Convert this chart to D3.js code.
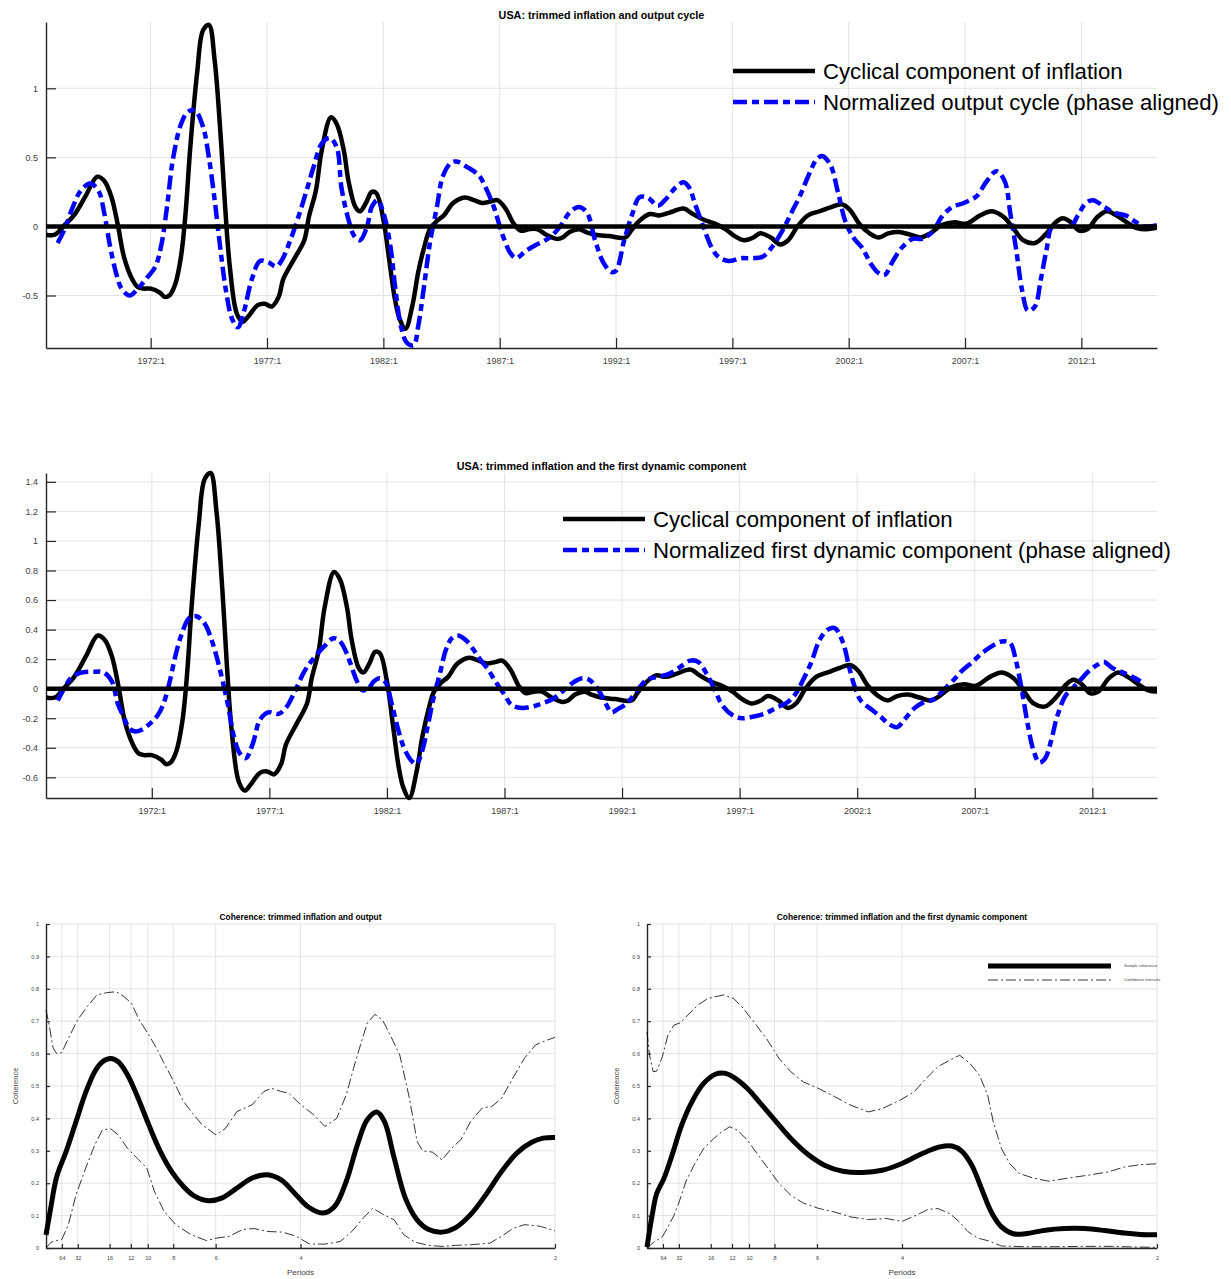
<!DOCTYPE html>
<html>
<head>
<meta charset="utf-8">
<script src="https://cdn.jsdelivr.net/npm/d3@7"></script>
<style>
body { margin: 0; background: #fff; }
svg { display: block; font-family: "Liberation Sans", Arial, sans-serif; }
</style>
</head>
<body>
<svg id="fig" width="1231" height="1279"></svg>
<script>
// ---- data ----
const yearTicks = [1972, 1977, 1982, 1987, 1992, 1997, 2002, 2007, 2012];
const yTicksTop = [-0.5, 0, 0.5, 1];
const yTicksMid = [-0.6, -0.4, -0.2, 0, 0.2, 0.4, 0.6, 0.8, 1, 1.2, 1.4];
const periodTicks = [64, 32, 16, 12, 10, 8, 6, 4, 2];
const cohTicks = [0, 0.1, 0.2, 0.3, 0.4, 0.5, 0.6, 0.7, 0.8, 0.9, 1];

// cyclical component of inflation (same in both time panels)
const inflYears = [1967.5,1967.87,1968.3,1968.7,1969.2,1969.7,1970.0,1970.3,1970.6,1970.85,1971.2,1971.45,1971.7,1972.0,1972.4,1972.6,1972.8,1973.05,1973.3,1973.5,1973.7,1974.0,1974.25,1974.5,1974.75,1975.0,1975.2,1975.4,1975.7,1975.95,1976.2,1976.6,1976.9,1977.2,1977.5,1977.7,1978.15,1978.6,1978.8,1979.1,1979.35,1979.75,1980.0,1980.3,1980.5,1980.8,1981.0,1981.25,1981.5,1981.7,1982.0,1982.25,1982.5,1982.7,1982.95,1983.25,1983.5,1983.77,1984.0,1984.3,1984.6,1985.0,1985.5,1985.9,1986.25,1986.6,1986.9,1987.25,1987.6,1987.9,1988.25,1988.6,1989.0,1989.45,1989.7,1990.0,1990.4,1990.7,1991.1,1991.7,1992.4,1992.65,1993.0,1993.45,1993.85,1994.3,1994.9,1995.3,1995.75,1996.25,1996.7,1997.1,1997.5,1997.9,1998.2,1998.65,1999.05,1999.4,1999.8,2000.25,2000.75,2001.25,2001.7,2002.05,2002.45,2002.9,2003.3,2003.7,2004.15,2004.65,2005.1,2005.5,2006.0,2006.55,2007.05,2007.65,2008.15,2008.65,2009.1,2009.5,2010.0,2010.45,2010.9,2011.2,2011.55,2011.9,2012.25,2012.7,2013.1,2013.5,2013.95,2014.35,2014.8,2015.25];
const inflVals = [-0.06,-0.06,0.01,0.08,0.22,0.36,0.33,0.22,0.0,-0.22,-0.38,-0.44,-0.45,-0.45,-0.48,-0.51,-0.50,-0.42,-0.22,0.10,0.57,1.12,1.42,1.46,1.20,0.67,0.14,-0.29,-0.63,-0.69,-0.65,-0.57,-0.56,-0.58,-0.51,-0.38,-0.24,-0.10,0.07,0.26,0.55,0.79,0.74,0.55,0.33,0.14,0.11,0.17,0.25,0.24,0.05,-0.24,-0.53,-0.67,-0.74,-0.57,-0.33,-0.14,-0.02,0.04,0.08,0.17,0.21,0.19,0.17,0.18,0.19,0.13,0.02,-0.03,-0.02,-0.02,-0.06,-0.09,-0.08,-0.04,-0.02,-0.04,-0.06,-0.07,-0.08,-0.03,0.04,0.09,0.08,0.10,0.13,0.09,0.05,0.02,-0.02,-0.07,-0.10,-0.08,-0.05,-0.08,-0.13,-0.10,0.00,0.08,0.11,0.14,0.16,0.12,0.02,-0.05,-0.08,-0.05,-0.04,-0.06,-0.08,-0.05,0.01,0.03,0.02,0.08,0.11,0.07,-0.02,-0.10,-0.12,-0.06,0.03,0.06,0.03,-0.03,-0.02,0.07,0.11,0.08,0.03,-0.01,-0.02,-0.01];

// normalized output cycle (phase aligned)
const outYears = [1968.0,1968.3,1968.65,1969.0,1969.4,1969.75,1970.0,1970.25,1970.5,1970.75,1971.1,1971.45,1971.8,1972.2,1972.45,1972.7,1972.95,1973.3,1973.6,1973.9,1974.25,1974.5,1974.75,1975.0,1975.25,1975.5,1975.75,1976.0,1976.35,1976.7,1977.05,1977.4,1977.65,1978.0,1978.35,1978.7,1979.0,1979.35,1979.7,1980.0,1980.2,1980.5,1980.75,1981.0,1981.3,1981.5,1981.75,1982.0,1982.3,1982.5,1982.75,1983.0,1983.3,1983.5,1983.75,1984.0,1984.3,1984.55,1984.9,1985.15,1985.6,1986.1,1986.4,1986.75,1987.1,1987.45,1987.7,1988.1,1988.6,1989.15,1989.6,1990.0,1990.4,1990.75,1991.1,1991.45,1991.8,1992.0,1992.35,1992.7,1993.0,1993.35,1993.8,1994.1,1994.55,1994.9,1995.15,1995.4,1995.75,1996.1,1996.4,1996.85,1997.35,1997.85,1998.3,1998.7,1999.15,1999.6,1999.9,2000.25,2000.6,2000.85,2001.2,2001.55,2001.85,2002.2,2002.6,2002.95,2003.3,2003.55,2003.9,2004.3,2004.75,2005.15,2005.6,2006.0,2006.45,2006.95,2007.5,2007.9,2008.35,2008.7,2008.95,2009.2,2009.45,2009.7,2010.0,2010.25,2010.5,2010.75,2011.1,2011.55,2011.85,2012.2,2012.5,2013.0,2013.4,2013.9,2014.35,2014.7,2015.25];
const outVals = [-0.12,-0.02,0.14,0.26,0.31,0.26,0.10,-0.14,-0.33,-0.45,-0.50,-0.45,-0.38,-0.29,-0.14,0.14,0.48,0.74,0.83,0.84,0.72,0.50,0.19,-0.17,-0.48,-0.67,-0.73,-0.62,-0.38,-0.25,-0.26,-0.29,-0.24,-0.10,0.07,0.26,0.43,0.60,0.64,0.57,0.28,0.05,-0.07,-0.10,0.0,0.14,0.19,0.10,-0.14,-0.43,-0.72,-0.84,-0.86,-0.72,-0.43,-0.12,0.14,0.36,0.46,0.47,0.43,0.37,0.28,0.14,-0.05,-0.19,-0.23,-0.18,-0.13,-0.08,0.0,0.10,0.14,0.10,-0.10,-0.26,-0.33,-0.32,-0.10,0.09,0.21,0.21,0.15,0.19,0.28,0.32,0.28,0.16,0.0,-0.15,-0.22,-0.25,-0.23,-0.23,-0.22,-0.15,-0.03,0.12,0.22,0.36,0.48,0.51,0.45,0.24,0.04,-0.08,-0.16,-0.27,-0.34,-0.35,-0.25,-0.15,-0.09,-0.09,-0.04,0.07,0.14,0.17,0.22,0.32,0.40,0.33,0.09,-0.17,-0.46,-0.61,-0.58,-0.39,-0.17,0.0,0.0,0.0,0.08,0.17,0.19,0.14,0.10,0.08,0.03,0.0,0.01];

// normalized first dynamic component (phase aligned)
const dynYears = [1968.0,1968.3,1968.6,1969.05,1969.55,1969.95,1970.3,1970.55,1970.8,1971.05,1971.3,1971.55,1971.9,1972.25,1972.5,1972.75,1973.0,1973.25,1973.6,1973.9,1974.25,1974.5,1974.75,1975.0,1975.25,1975.5,1975.75,1976.0,1976.3,1976.6,1976.95,1977.4,1977.7,1978.05,1978.5,1978.9,1979.35,1979.7,1979.95,1980.2,1980.45,1980.7,1980.95,1981.2,1981.45,1981.7,1981.95,1982.2,1982.45,1982.7,1983.0,1983.25,1983.5,1983.75,1984.0,1984.25,1984.5,1984.75,1985.0,1985.35,1985.7,1986.0,1986.3,1986.65,1987.0,1987.3,1987.75,1988.2,1988.6,1989.05,1989.45,1989.9,1990.3,1990.6,1991.0,1991.3,1991.55,1991.8,1992.2,1992.65,1993.05,1993.5,1994.0,1994.5,1994.9,1995.25,1995.6,1995.95,1996.25,1996.7,1997.1,1997.55,1998.05,1998.55,1999.05,1999.4,1999.7,2000.05,2000.4,2000.75,2001.05,2001.4,2001.65,2001.9,2002.15,2002.6,2003.0,2003.35,2003.7,2004.0,2004.45,2004.85,2005.3,2005.6,2006.05,2006.45,2006.9,2007.3,2007.75,2008.15,2008.5,2008.75,2009.0,2009.25,2009.5,2009.75,2010.0,2010.25,2010.5,2010.85,2011.2,2011.5,2011.85,2012.2,2012.5,2012.85,2013.3,2013.7,2014.05];
const dynVals = [-0.08,0.01,0.08,0.11,0.115,0.11,0.05,-0.10,-0.19,-0.27,-0.29,-0.28,-0.24,-0.18,-0.10,0.04,0.22,0.36,0.48,0.49,0.44,0.35,0.22,0.06,-0.12,-0.33,-0.44,-0.47,-0.37,-0.21,-0.16,-0.17,-0.13,-0.03,0.12,0.21,0.29,0.34,0.33,0.27,0.17,0.06,-0.01,0.00,0.05,0.07,0.04,-0.10,-0.26,-0.39,-0.48,-0.51,-0.42,-0.24,-0.05,0.10,0.26,0.34,0.36,0.33,0.26,0.19,0.13,0.04,-0.04,-0.11,-0.13,-0.12,-0.10,-0.07,-0.02,0.04,0.07,0.06,-0.01,-0.10,-0.16,-0.14,-0.10,-0.01,0.06,0.08,0.10,0.15,0.19,0.18,0.10,-0.01,-0.11,-0.18,-0.20,-0.19,-0.17,-0.13,-0.09,-0.03,0.06,0.18,0.33,0.40,0.41,0.31,0.15,0.01,-0.08,-0.14,-0.19,-0.24,-0.26,-0.21,-0.13,-0.09,-0.07,-0.02,0.05,0.12,0.18,0.24,0.29,0.32,0.31,0.19,-0.01,-0.24,-0.42,-0.50,-0.47,-0.35,-0.19,-0.05,0.01,0.06,0.12,0.16,0.18,0.14,0.11,0.08,0.05];

// coherence, x = frequency / pi (period p sits at 2/p)
const cohOutU = [0,0.01,0.021,0.04,0.059,0.078,0.096,0.111,0.127,0.142,0.16,0.179,0.202,0.224,0.247,0.27,0.292,0.319,0.345,0.375,0.405,0.435,0.462,0.488,0.514,0.544,0.567,0.59,0.612,0.631,0.65,0.665,0.684,0.706,0.729,0.752,0.778,0.804,0.834,0.864,0.895,0.925,0.955,0.977,1];
const cohOutV = [0.04,0.13,0.22,0.30,0.39,0.48,0.545,0.575,0.585,0.575,0.535,0.47,0.38,0.30,0.236,0.19,0.16,0.146,0.154,0.185,0.216,0.226,0.21,0.17,0.128,0.108,0.128,0.206,0.32,0.396,0.42,0.39,0.278,0.154,0.087,0.057,0.049,0.062,0.103,0.164,0.236,0.293,0.327,0.339,0.341];
const cohOutHiU = [0,0.006,0.014,0.021,0.031,0.044,0.062,0.081,0.1,0.119,0.138,0.153,0.168,0.183,0.202,0.217,0.232,0.251,0.27,0.288,0.307,0.334,0.352,0.375,0.405,0.428,0.443,0.462,0.477,0.499,0.526,0.548,0.571,0.59,0.608,0.631,0.646,0.661,0.676,0.695,0.714,0.729,0.74,0.759,0.778,0.797,0.815,0.834,0.857,0.876,0.895,0.917,0.94,0.962,0.985,1];
const cohOutHiV = [0.735,0.69,0.617,0.60,0.603,0.647,0.704,0.745,0.781,0.788,0.791,0.776,0.755,0.704,0.658,0.617,0.57,0.514,0.452,0.416,0.38,0.349,0.368,0.421,0.442,0.483,0.493,0.483,0.478,0.444,0.411,0.375,0.40,0.473,0.576,0.694,0.721,0.704,0.658,0.596,0.462,0.329,0.30,0.296,0.272,0.308,0.334,0.39,0.432,0.437,0.462,0.524,0.586,0.627,0.642,0.65];
const cohOutLoU = [0,0.01,0.021,0.031,0.044,0.059,0.078,0.096,0.111,0.127,0.142,0.16,0.179,0.198,0.213,0.232,0.255,0.285,0.315,0.337,0.36,0.386,0.409,0.435,0.465,0.492,0.518,0.548,0.578,0.601,0.623,0.642,0.661,0.684,0.703,0.725,0.752,0.778,0.804,0.834,0.872,0.895,0.917,0.94,0.971,1];
const cohOutLoV = [0,0.018,0.023,0.026,0.072,0.164,0.247,0.319,0.365,0.368,0.349,0.308,0.277,0.247,0.175,0.113,0.072,0.041,0.023,0.031,0.036,0.057,0.06,0.051,0.049,0.036,0.012,0.012,0.02,0.051,0.092,0.123,0.105,0.087,0.041,0.018,0.008,0.005,0.008,0.01,0.015,0.036,0.06,0.072,0.067,0.053];

const cohDynU = [0,0.01,0.019,0.033,0.049,0.068,0.088,0.111,0.135,0.154,0.174,0.197,0.22,0.251,0.282,0.314,0.349,0.384,0.423,0.461,0.5,0.539,0.574,0.598,0.617,0.637,0.656,0.675,0.695,0.718,0.742,0.781,0.819,0.858,0.897,0.936,0.967,1];
const cohDynV = [0.003,0.10,0.168,0.214,0.286,0.379,0.451,0.508,0.537,0.539,0.523,0.492,0.451,0.394,0.338,0.291,0.255,0.237,0.233,0.24,0.261,0.291,0.312,0.315,0.299,0.255,0.183,0.111,0.065,0.044,0.044,0.055,0.06,0.06,0.054,0.046,0.042,0.041];
const cohDynHiU = [0,0.005,0.012,0.019,0.03,0.041,0.053,0.065,0.08,0.1,0.119,0.135,0.15,0.17,0.189,0.212,0.236,0.259,0.282,0.306,0.337,0.368,0.399,0.434,0.461,0.496,0.524,0.547,0.57,0.594,0.613,0.633,0.652,0.668,0.679,0.695,0.711,0.73,0.757,0.788,0.827,0.866,0.905,0.936,0.967,1];
const cohDynHiV = [0.667,0.595,0.544,0.546,0.59,0.657,0.688,0.695,0.719,0.75,0.77,0.776,0.781,0.77,0.739,0.693,0.642,0.585,0.544,0.513,0.492,0.467,0.441,0.42,0.43,0.456,0.482,0.523,0.559,0.58,0.595,0.57,0.533,0.472,0.389,0.307,0.261,0.23,0.216,0.206,0.216,0.225,0.235,0.25,0.257,0.26];
const cohDynLoU = [0,0.014,0.03,0.041,0.053,0.063,0.076,0.092,0.111,0.131,0.146,0.162,0.177,0.197,0.216,0.24,0.259,0.282,0.306,0.337,0.368,0.399,0.434,0.469,0.5,0.528,0.551,0.57,0.594,0.613,0.629,0.648,0.672,0.695,0.742,0.796,0.858,0.913,0.96,1];
const cohDynLoV = [0,0.019,0.034,0.065,0.101,0.142,0.204,0.255,0.307,0.338,0.358,0.374,0.364,0.333,0.291,0.24,0.199,0.163,0.139,0.122,0.111,0.096,0.088,0.091,0.082,0.101,0.119,0.122,0.106,0.08,0.051,0.031,0.021,0.006,0.004,0.004,0.005,0.005,0.003,0.002];

// ---- drawing ----
const svg = d3.select('#fig');
const gridCol = '#e3e3e3';
const axisCol = '#262626';
const tickCol = '#404040';
const blue = '#0000ff';
const blueDash = '14,5,7,5';
const fmt = d => String(+d.toFixed(1));

function styleAxis(sel, fs) {
    sel.attr('font-family', null).attr('font-size', fs);
    sel.select('.domain').attr('stroke', axisCol).attr('stroke-width', 1.4);
    sel.selectAll('.tick line').attr('stroke', axisCol).attr('stroke-width', 1.2);
    sel.selectAll('.tick text').attr('fill', tickCol);
}

function drawTime(o) {
    const L = 46, R = 1157;
    const x = d3.scaleLinear().domain(o.xdom).range([L, R]);
    const y = d3.scaleLinear().domain(o.ydom).range([o.bottom, o.top]);
    const g = svg.append('g');

    g.append('clipPath').attr('id', o.id).append('rect')
        .attr('x', L).attr('y', o.top - 6).attr('width', R - L).attr('height', o.bottom - o.top + 12);

    // grid
    g.append('g').selectAll('line').data(yearTicks).join('line')
        .attr('x1', d => x(d)).attr('x2', d => x(d)).attr('y1', o.top).attr('y2', o.bottom)
        .attr('stroke', gridCol);
    g.append('g').selectAll('line').data(o.yticks).join('line')
        .attr('x1', L).attr('x2', R).attr('y1', d => y(d)).attr('y2', d => y(d))
        .attr('stroke', gridCol);

    // axes (ticks point inward like the original)
    g.append('g').attr('transform', `translate(0,${o.bottom})`)
        .call(d3.axisBottom(x).tickValues(yearTicks).tickFormat(d => d + ':1')
            .tickSizeInner(-10).tickSizeOuter(0).tickPadding(10))
        .call(styleAxis, 9);
    g.append('g').attr('transform', `translate(${L},0)`)
        .call(d3.axisLeft(y).tickValues(o.yticks).tickFormat(fmt)
            .tickSizeInner(-10).tickSizeOuter(0).tickPadding(8))
        .call(styleAxis, 9);

    // series
    const line = d3.line().x(d => x(d[0])).y(d => y(d[1])).curve(d3.curveCatmullRom.alpha(0.5));
    const plot = g.append('g').attr('clip-path', `url(#${o.id})`);
    plot.append('path')
        .attr('d', line(d3.zip(inflYears, inflVals)))
        .attr('fill', 'none').attr('stroke', '#000').attr('stroke-width', 4.5)
        .attr('stroke-linejoin', 'round');
    plot.append('path')
        .attr('d', line(d3.zip(o.blueT, o.blueV)))
        .attr('fill', 'none').attr('stroke', blue).attr('stroke-width', 4.5)
        .attr('stroke-dasharray', blueDash);
    plot.append('line')
        .attr('x1', x(o.xdom[0])).attr('x2', x(o.xdom[1]))
        .attr('y1', y(0)).attr('y2', y(0))
        .attr('stroke', '#000').attr('stroke-width', 4.5);

    // title
    g.append('text').attr('x', (L + R) / 2).attr('y', o.top - 3.5)
        .attr('text-anchor', 'middle').attr('font-size', 10.8).attr('font-weight', 'bold')
        .text(o.title);

    // legend
    const lg = g.append('g');
    const items = [
        { label: 'Cyclical component of inflation', color: '#000', dash: null },
        { label: o.blueLabel, color: blue, dash: blueDash }
    ];
    items.forEach((it, i) => {
        const yy = o.legendY + i * 31;
        lg.append('line').attr('x1', o.legendX).attr('x2', o.legendX + 82)
            .attr('y1', yy).attr('y2', yy)
            .attr('stroke', it.color).attr('stroke-width', 4.5)
            .attr('stroke-dasharray', it.dash);
        lg.append('text').attr('x', o.legendX + 90).attr('y', yy).attr('dy', '0.36em')
            .attr('font-size', 22.2).text(it.label);
    });
}

function drawCoh(o) {
    const top = 924, bottom = 1248;
    const x = d3.scaleLinear().domain([0, 1]).range([o.L, o.R]);
    const y = d3.scaleLinear().domain([0, 1]).range([bottom, top]);
    const g = svg.append('g');
    const periodPos = periodTicks.map(p => 2 / p);

    g.append('g').selectAll('line').data(periodPos).join('line')
        .attr('x1', d => x(d)).attr('x2', d => x(d)).attr('y1', top).attr('y2', bottom)
        .attr('stroke', gridCol);
    g.append('g').selectAll('line').data(cohTicks).join('line')
        .attr('x1', o.L).attr('x2', o.R).attr('y1', d => y(d)).attr('y2', d => y(d))
        .attr('stroke', gridCol);

    g.append('g').attr('transform', `translate(0,${bottom})`)
        .call(d3.axisBottom(x).tickValues(periodPos).tickFormat((d, i) => periodTicks[i])
            .tickSizeInner(-4).tickSizeOuter(0).tickPadding(8))
        .call(styleAxis, 5.5);
    g.append('g').attr('transform', `translate(${o.L},0)`)
        .call(d3.axisLeft(y).tickValues(cohTicks).tickFormat(fmt)
            .tickSizeInner(-4).tickSizeOuter(0).tickPadding(7))
        .call(styleAxis, 5.5);

    const smooth = d3.line().x(d => x(d[0])).y(d => y(d[1])).curve(d3.curveCatmullRom.alpha(0.5));
    const straight = d3.line().x(d => x(d[0])).y(d => y(d[1]));

    [o.hi, o.lo].forEach(s => {
        g.append('path').attr('d', straight(d3.zip(s[0], s[1])))
            .attr('fill', 'none').attr('stroke', '#000').attr('stroke-width', 0.8)
            .attr('stroke-dasharray', '10,3,2,3');
    });
    g.append('path').attr('d', smooth(d3.zip(o.mid[0], o.mid[1])))
        .attr('fill', 'none').attr('stroke', '#000').attr('stroke-width', 5)
        .attr('stroke-linejoin', 'round');

    g.append('text').attr('x', (o.L + o.R) / 2).attr('y', 919.5)
        .attr('text-anchor', 'middle').attr('font-size', 8.4).attr('font-weight', 'bold')
        .text(o.title);
    g.append('text').attr('x', (o.L + o.R) / 2).attr('y', 1275)
        .attr('text-anchor', 'middle').attr('font-size', 8).attr('fill', tickCol)
        .text('Periods');
    g.append('text')
        .attr('transform', `translate(${o.L - 28},${(top + bottom) / 2}) rotate(-90)`)
        .attr('text-anchor', 'middle').attr('font-size', 7.5).attr('fill', tickCol)
        .text('Coherence');

    if (o.legend) {
        const lx = 988, lw = 123;
        g.append('line').attr('x1', lx).attr('x2', lx + lw).attr('y1', 966).attr('y2', 966)
            .attr('stroke', '#000').attr('stroke-width', 5);
        g.append('line').attr('x1', lx).attr('x2', lx + lw).attr('y1', 980).attr('y2', 980)
            .attr('stroke', '#000').attr('stroke-width', 0.8).attr('stroke-dasharray', '10,3,2,3');
        g.append('text').attr('x', 1124).attr('y', 966).attr('dy', '0.35em')
            .attr('font-size', 4).attr('fill', tickCol).text('Sample coherence');
        g.append('text').attr('x', 1124).attr('y', 980).attr('dy', '0.35em')
            .attr('font-size', 4).attr('fill', tickCol).text('Confidence intervals');
    }
}

drawTime({
    id: 'clipTop', top: 22, bottom: 348, xdom: [1967.5, 2015.25], ydom: [-0.88, 1.48],
    yticks: yTicksTop, title: 'USA: trimmed inflation and output cycle',
    blueT: outYears, blueV: outVals, blueLabel: 'Normalized output cycle (phase aligned)',
    legendX: 733, legendY: 71
});
drawTime({
    id: 'clipMid', top: 473, bottom: 798, xdom: [1967.5, 2014.75], ydom: [-0.74, 1.46],
    yticks: yTicksMid, title: 'USA: trimmed inflation and the first dynamic component',
    blueT: dynYears, blueV: dynVals, blueLabel: 'Normalized first dynamic component (phase aligned)',
    legendX: 563, legendY: 519
});
drawCoh({
    L: 46, R: 555, title: 'Coherence: trimmed inflation and output',
    mid: [cohOutU, cohOutV], hi: [cohOutHiU, cohOutHiV], lo: [cohOutLoU, cohOutLoV], legend: false
});
drawCoh({
    L: 647, R: 1157, title: 'Coherence: trimmed inflation and the first dynamic component',
    mid: [cohDynU, cohDynV], hi: [cohDynHiU, cohDynHiV], lo: [cohDynLoU, cohDynLoV], legend: true
});
</script>
</body>
</html>
